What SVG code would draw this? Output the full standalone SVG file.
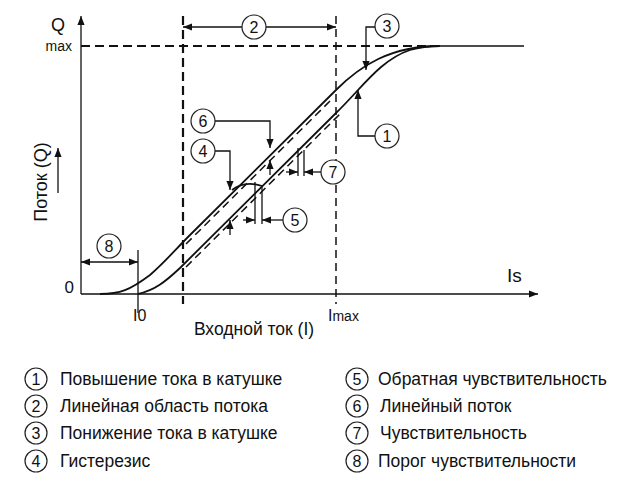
<svg xmlns="http://www.w3.org/2000/svg" width="621" height="488" viewBox="0 0 621 488">
<style>
text{font-family:"Liberation Sans",Arial,sans-serif;fill:#111}
.c{fill:#fff;stroke:#222;stroke-width:1.2}
.cn{font-size:16px;text-anchor:middle}
.l{fill:none;stroke:#111;stroke-width:1.3}
.cv{fill:none;stroke:#111;stroke-width:1.8}
.d{fill:none;stroke:#111;stroke-width:1.5;stroke-dasharray:8,5}
.lg{font-size:17.5px}
</style>
<defs>
<marker id="a" viewBox="0 0 10 10" refX="10" refY="5" markerWidth="7" markerHeight="7" orient="auto-start-reverse"><path d="M0,1 L10,5 L0,9 Z" fill="#111"/></marker>
</defs>
<rect width="621" height="488" fill="#fff"/>
<g id="axes">
<line x1="81" y1="294" x2="81" y2="16" class="l" stroke-width="2" marker-end="url(#a)"/>
<line x1="81" y1="294" x2="538" y2="294" class="l" stroke-width="2" marker-end="url(#a)"/>
<line x1="81" y1="46" x2="430" y2="46" stroke="#111" stroke-width="2.2" stroke-dasharray="9,5"/>
<line x1="430" y1="46" x2="524" y2="46" class="l" stroke-width="1.8"/>
<line x1="183" y1="16" x2="183" y2="304" stroke="#111" stroke-width="2.2" stroke-dasharray="9,5"/>
<line x1="336" y1="16" x2="336" y2="304" class="d"/>
<line x1="58" y1="193" x2="58" y2="148" class="l" marker-end="url(#a)"/>
<text x="58" y="31" font-size="18" text-anchor="middle">Q</text>
<text x="72" y="51" font-size="14" text-anchor="end">max</text>
<text x="74" y="293" font-size="17" text-anchor="end">0</text>
<text x="507" y="282" font-size="19">Is</text>
<text x="133" y="321" font-size="16">I0</text>
<text x="328" y="321" font-size="16">I<tspan font-size="14">max</tspan></text>
<text x="254" y="335" font-size="17.5" text-anchor="middle">Входной ток (I)</text>
<text transform="translate(47,182) rotate(-90)" font-size="18" text-anchor="middle">Поток (Q)</text>
</g>
<g id="curves">
<path class="cv" d="M100,294 C120,294 130,290 150,275 C165,262 175,250 190,235 L336,90 C360,66 390,46 440,46"/>
<path class="cv" d="M138,294 C155,290 165,282 180,268 L336,113 C362,88 380,60 410,50 C420,47 430,46 440,46"/>
<path class="d" d="M186,244 L330,101"/>
<path class="d" d="M186,267 L340,114"/>
<path class="cv" d="M232,190 C240,184 250,182 262,186"/>
</g>
<g id="connectors">
<line x1="183" y1="27" x2="336" y2="27" class="l" marker-start="url(#a)" marker-end="url(#a)"/>
<polyline points="376,27 366,27 366,70" class="l" marker-end="url(#a)"/>
<polyline points="376,136 358,136 358,90" class="l" marker-end="url(#a)"/>
<polyline points="215,121 270,121 270,148" class="l" marker-end="url(#a)"/>
<line x1="270" y1="175" x2="270" y2="160" class="l" marker-end="url(#a)"/>
<polyline points="215,151 230,151 230,190" class="l" marker-end="url(#a)"/>
<line x1="298" y1="148" x2="298" y2="176" class="l"/>
<line x1="304" y1="150" x2="304" y2="176" class="l"/>
<line x1="286" y1="172" x2="298" y2="172" class="l" marker-end="url(#a)"/>
<line x1="321" y1="172" x2="304" y2="172" class="l" marker-end="url(#a)"/>
<line x1="255" y1="182" x2="255" y2="224" class="l"/>
<line x1="262" y1="186" x2="262" y2="224" class="l"/>
<line x1="243" y1="220" x2="255" y2="220" class="l" marker-end="url(#a)"/>
<line x1="283" y1="220" x2="262" y2="220" class="l" marker-end="url(#a)"/>
<line x1="230" y1="235" x2="230" y2="220" class="l" marker-end="url(#a)"/>
<line x1="81" y1="262" x2="138" y2="262" class="l" marker-start="url(#a)" marker-end="url(#a)"/>
<line x1="138" y1="250" x2="138" y2="313" class="l"/>
</g>
<g id="n2"><circle class="c" cx="254" cy="27" r="12"/><text class="cn" x="254" y="33">2</text></g>
<g id="n3"><circle class="c" cx="387" cy="26" r="12"/><text class="cn" x="387" y="32">3</text></g>
<g id="n1"><circle class="c" cx="387" cy="136" r="12"/><text class="cn" x="387" y="142">1</text></g>
<g id="n6"><circle class="c" cx="203" cy="121" r="12"/><text class="cn" x="203" y="127">6</text></g>
<g id="n4"><circle class="c" cx="203" cy="151" r="12"/><text class="cn" x="203" y="157">4</text></g>
<g id="n7"><circle class="c" cx="333" cy="172" r="12"/><text class="cn" x="333" y="178">7</text></g>
<g id="n5"><circle class="c" cx="295" cy="220" r="12"/><text class="cn" x="295" y="226">5</text></g>
<g id="n8"><circle class="c" cx="109" cy="246" r="12"/><text class="cn" x="109" y="252">8</text></g>
<g id="legend">
<circle class="c" cx="36" cy="379" r="11"/><text class="cn" x="36" y="385">1</text><text class="lg" x="60" y="385">Повышение тока в катушке</text>
<circle class="c" cx="36" cy="406" r="11"/><text class="cn" x="36" y="412">2</text><text class="lg" x="60" y="412">Линейная область потока</text>
<circle class="c" cx="36" cy="433" r="11"/><text class="cn" x="36" y="439">3</text><text class="lg" x="60" y="439">Понижение тока в катушке</text>
<circle class="c" cx="36" cy="461" r="11"/><text class="cn" x="36" y="467">4</text><text class="lg" x="60" y="467">Гистерезис</text>
<circle class="c" cx="357" cy="379" r="11"/><text class="cn" x="357" y="385">5</text><text class="lg" x="378" y="385">Обратная чувствительность</text>
<circle class="c" cx="357" cy="406" r="11"/><text class="cn" x="357" y="412">6</text><text class="lg" x="380" y="412">Линейный поток</text>
<circle class="c" cx="357" cy="433" r="11"/><text class="cn" x="357" y="439">7</text><text class="lg" x="380" y="439">Чувствительность</text>
<circle class="c" cx="357" cy="461" r="11"/><text class="cn" x="357" y="467">8</text><text class="lg" x="378" y="467">Порог чувствительности</text>
</g>
</svg>
